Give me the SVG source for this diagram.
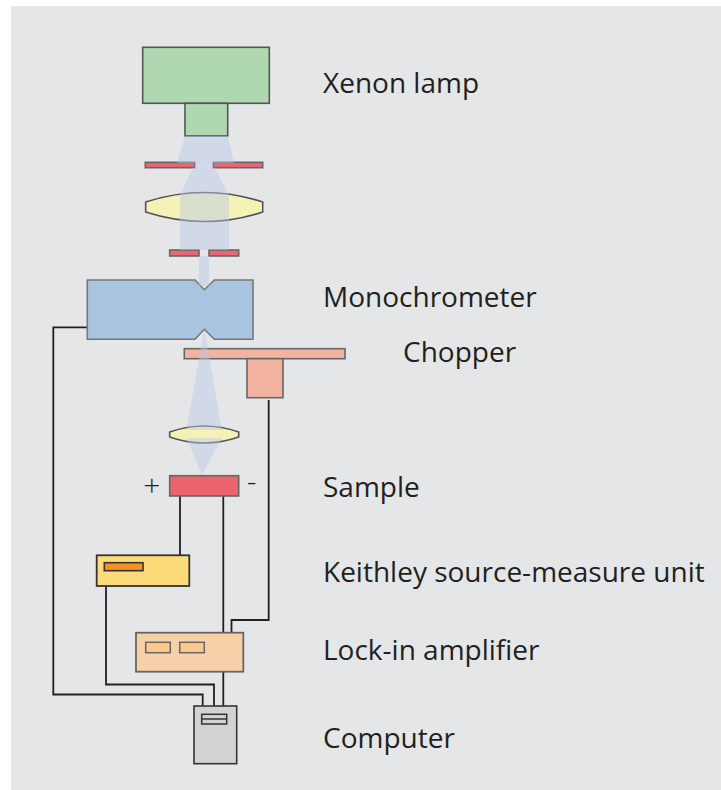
<svg xmlns="http://www.w3.org/2000/svg" width="721" height="790" viewBox="0 0 721 790">
  <style>
    .lbl { font-family: "Open Sans", "Noto Sans", "Liberation Sans", sans-serif; font-size: 28px; fill: #231f20; }
    .sign { font-family: "Open Sans", "Noto Sans", "Liberation Sans", sans-serif; font-size: 30px; font-weight: 300; fill: #231f20; }
    .wire { fill: none; stroke: #231f20; stroke-width: 1.8; }
    .beam { fill: #b8c8e6; fill-opacity: 0.45; stroke: none; }
    .slit { fill: #ee6470; stroke: #666; stroke-width: 1.6; }
    .lens { fill: #f5f2b8; stroke: #555; stroke-width: 1.6; }
  </style>

  <!-- panel background -->
  <rect x="11" y="6" width="710" height="784" fill="#e5e6e8"/>

  <!-- connectors (cables) -->
  <g id="connectors">
    <path class="wire" d="M87,327.3 H53.3 V694.5 H202.7 V706"/>
    <path class="wire" d="M106,586 V684.5 H214 V706"/>
    <path class="wire" d="M223.3,671.7 V706"/>
    <path class="wire" d="M180,496 V555.3"/>
    <path class="wire" d="M223.3,496 V632.7"/>
    <path class="wire" d="M268.7,400 V620 H231.5 V632.7"/>
  </g>

  <g id="xenon-lamp">
    <rect x="142.7" y="47.3" width="126.6" height="56" fill="#b0d8b0" stroke="#555" stroke-width="1.6"/>
    <rect x="185" y="103.3" width="42.7" height="32.7" fill="#b0d8b0" stroke="#555" stroke-width="1.6"/>
  </g>

  <g id="slit-1">
    <rect class="slit" x="145.3" y="162.3" width="49.4" height="5.4"/>
    <rect class="slit" x="213.3" y="162.3" width="49.4" height="5.4"/>
  </g>

  <g id="lens-1">
    <path class="lens" d="M145.7,202 Q204,183 262.7,202 V212 Q204,231 145.7,212 Z"/>
  </g>

  <g id="slit-2">
    <rect class="slit" x="169.7" y="250" width="29.3" height="6"/>
    <rect class="slit" x="209" y="250" width="29.7" height="6"/>
  </g>

  <g id="monochromator">
    <path d="M87.3,280 H195 L204.3,289.7 L214.3,280 H253 V339.3 H214.3 L204.3,329.3 L195,339.3 H87.3 Z" fill="#a9c4e0" stroke="#777" stroke-width="1.6"/>
  </g>

  <g id="chopper">
    <rect x="184.3" y="348.7" width="160.7" height="10" fill="#f2b3a0" stroke="#666" stroke-width="1.6"/>
    <rect x="247" y="358.7" width="36" height="39" fill="#f2b3a0" stroke="#666" stroke-width="1.6"/>
  </g>

  <g id="lens-2">
    <path class="lens" d="M169.7,432 Q204,420 238.7,432 V437 Q204,449 169.7,437 Z"/>
  </g>

  <g id="sample">
    <rect x="169.7" y="475.7" width="69" height="20.3" fill="#ec636b" stroke="#666" stroke-width="1.6"/>
    <text class="sign" x="151.7" y="496" text-anchor="middle">+</text>
    <text class="sign" x="251.5" y="492" text-anchor="middle">-</text>
  </g>

  <!-- light path -->
  <g id="beam">
    <polygon class="beam" points="185,136 228,136 234,163 177,163"/>
    <polygon class="beam" points="194.7,163 213.3,163 213.3,167.7 194.7,167.7"/>
    <polygon class="beam" points="193,167.7 215,167.7 229,195 229,250 180,250 180,195" fill-opacity="0.35"/>
    <polygon class="beam" points="199,256 209,256 209,286 199,286"/>
    <polygon class="beam" points="204.3,329.3 222,430 186.5,430"/>
    <polygon class="beam" points="186.5,438 222,438 202,475"/>
  </g>

  <g id="keithley">
    <rect x="96.7" y="555.3" width="92.6" height="30.7" fill="#fedb7a" stroke="#333" stroke-width="1.8"/>
    <rect x="104.3" y="562.7" width="38.7" height="8" fill="#f39222" stroke="#333" stroke-width="1.6"/>
  </g>

  <g id="lock-in">
    <rect x="136" y="632.7" width="107.3" height="39" fill="#f5d0a9" stroke="#666" stroke-width="1.8"/>
    <rect x="145.7" y="642.3" width="24.6" height="10.4" fill="#fdc98a" stroke="#666" stroke-width="1.5"/>
    <rect x="179.7" y="642.3" width="24.6" height="10.4" fill="#fdc98a" stroke="#666" stroke-width="1.5"/>
  </g>

  <g id="computer">
    <rect x="194" y="706" width="42.7" height="57.7" fill="#d1d2d4" stroke="#333" stroke-width="1.6"/>
    <rect x="201.7" y="714.3" width="25" height="9.7" fill="#d1d2d4" stroke="#333" stroke-width="1.5"/>
    <line x1="201.7" y1="719" x2="226.7" y2="719" stroke="#333" stroke-width="1.5"/>
  </g>

  <g id="labels">
    <text class="lbl" x="323" y="93">Xenon lamp</text>
    <text class="lbl" x="323" y="307">Monochrometer</text>
    <text class="lbl" x="403" y="362">Chopper</text>
    <text class="lbl" x="323" y="497">Sample</text>
    <text class="lbl" x="323" y="582">Keithley source-measure unit</text>
    <text class="lbl" x="323" y="660">Lock-in amplifier</text>
    <text class="lbl" x="323" y="748">Computer</text>
  </g>
</svg>
